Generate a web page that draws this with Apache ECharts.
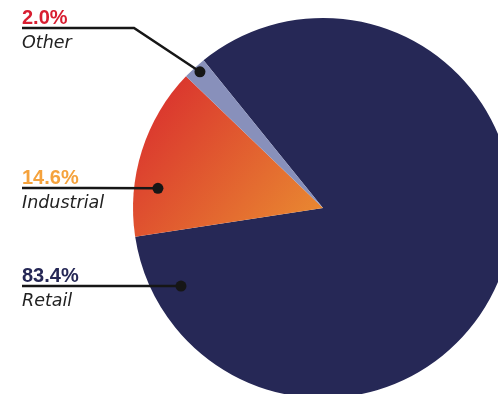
<!DOCTYPE html>
<html><head><meta charset="utf-8">
<script src="https://cdn.jsdelivr.net/npm/echarts@6/dist/echarts.min.js"></script>
<style>html,body{margin:0;padding:0;background:#fff}#c{width:498px;height:394px}</style>
</head><body><div id="c"></div>
<script>
const categories = ['Retail', 'Industrial', 'Other'];
const shares = [83.4, 14.6, 2.0];

const CX = 323, CY = 208, R = 190;
const sliceColors = [
  '#262856',
  {type:'linear', x:0, y:0, x2:1, y2:1, colorStops:[{offset:0,color:'#d8282e'},{offset:1,color:'#ea8f31'}]},
  '#8890bb'
];
const pctColors = ['#262856', '#f5a23c', '#d81e31'];
// anchor (dot) placement per slice: [radius fraction, angle in degrees ccw from 3 o'clock]
const anchors = [[0.853, 208.8], [0.875, 173.2], [0.966, 132.1]];
const labelLineY = [286, 188, 28];
const labelX = 22;
const elbowX = [100, 90, 134];

function anchorXY(i){
  const a = anchors[i][1] * Math.PI / 180, r = anchors[i][0] * R;
  return [CX + r * Math.cos(a), CY - r * Math.sin(a)];
}

const rich = {name:{fontFamily:'DejaVu Sans', fontStyle:'italic', fontSize:17.5, color:'#222', lineHeight:27}};
pctColors.forEach((c,i)=>{ rich['p'+i] = {fontFamily:'Liberation Sans', fontWeight:'bold', fontSize:20, color:c, lineHeight:24}; });

const pieData = categories.map((n,i)=>({name:n, value:shares[i]}));

const chart = echarts.init(document.getElementById('c'), null, {renderer:'canvas'});
chart.setOption({
  animation:false,
  polar:{center:[CX, CY], radius:R},
  angleAxis:{type:'value', min:0, max:360, startAngle:0, clockwise:false, show:false},
  radiusAxis:{type:'value', min:0, max:1, show:false},
  series:[{
    type:'pie',
    z:2,
    center:[CX, CY],
    radius:R,
    startAngle:128.95,
    clockwise:true,
    silent:true,
    data: pieData.map((d,i)=>({name:d.name, value:d.value, itemStyle:{color:sliceColors[i]}})),
    label:{show:false},
    labelLine:{show:false}
  },{
    type:'pie',
    z:5,
    center:[CX, CY],
    radius:R,
    startAngle:128.95,
    clockwise:true,
    silent:true,
    data: pieData.map(d=>({name:d.name, value:d.value, itemStyle:{color:'rgba(0,0,0,0)'}})),
    label:{
      show:true, position:'outside', alignTo:'edge', edgeDistance:10, overflow:'none',
      formatter: p => '{p' + p.dataIndex + '|' + p.value.toFixed(1) + '%}\n{name|' + p.name + '}',
      rich: rich
    },
    labelLine:{show:true, lineStyle:{color:'#161616', width:2.5}},
    labelLayout: function(params){
      const i = params.dataIndex;
      const d = anchorXY(i);
      const ly = labelLineY[i];
      return {
        x: labelX, y: ly - 22, align:'left', verticalAlign:'top',
        labelLinePoints: [[labelX, ly], [elbowX[i], ly], d]
      };
    }
  },{
    type:'scatter',
    coordinateSystem:'polar',
    z:10,
    silent:true,
    symbolSize:11,
    itemStyle:{color:'#161616', opacity:1},
    data: categories.map((n,i)=>anchors[i])
  }]
});
</script></body></html>
